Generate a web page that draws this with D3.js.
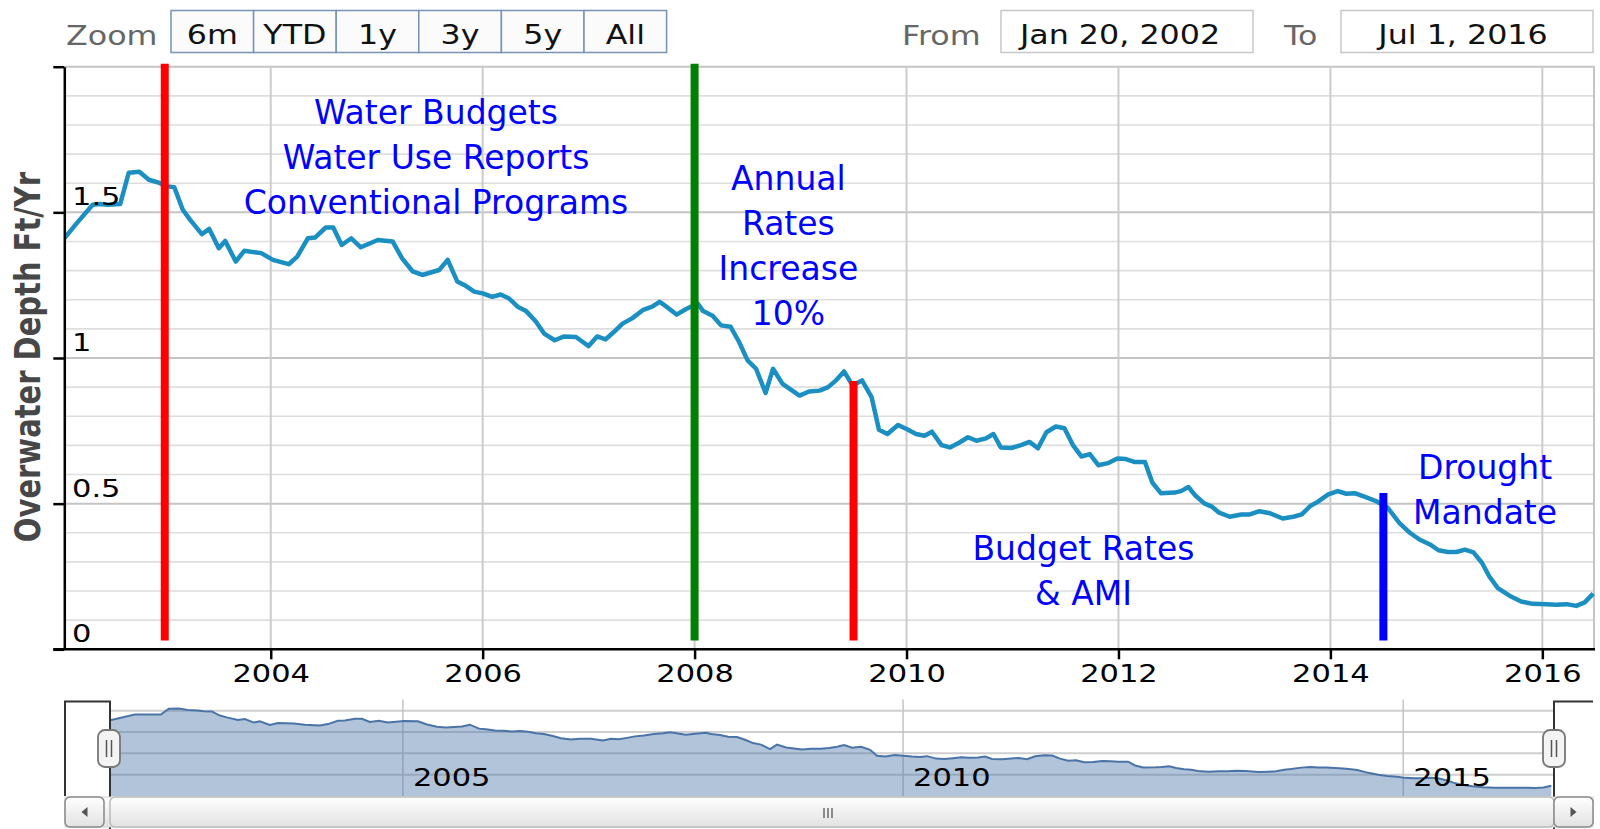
<!DOCTYPE html>
<html>
<head>
<meta charset="utf-8">
<script src="https://cdn.jsdelivr.net/npm/d3@7"></script>
<style>
  body { margin: 0; background: #fff; }
  svg { display: block; font-family: "DejaVu Sans", Verdana, sans-serif; }
</style>
</head>
<body>
<svg id="chart" width="1600" height="829"></svg>
<script>
// monthly-ish readings, decimal years
const years = [
  2002.05, 2002.17, 2002.32, 2002.38, 2002.47, 2002.58, 2002.66, 2002.76, 2002.85, 2002.95,
  2003.01, 2003.09, 2003.17, 2003.24, 2003.35, 2003.42, 2003.51, 2003.57, 2003.67, 2003.75,
  2003.91, 2004.02, 2004.17, 2004.25, 2004.35, 2004.42, 2004.52, 2004.59, 2004.67, 2004.76,
  2004.85, 2005.01, 2005.15, 2005.24, 2005.34, 2005.43, 2005.59, 2005.67, 2005.76, 2005.83,
  2005.92, 2006.00, 2006.09, 2006.17, 2006.25, 2006.33, 2006.41, 2006.50, 2006.58, 2006.68,
  2006.77, 2006.88, 2007.00, 2007.08, 2007.16, 2007.24, 2007.32, 2007.41, 2007.51, 2007.60,
  2007.67, 2007.75, 2007.83, 2007.92, 2008.03, 2008.08, 2008.17, 2008.25, 2008.34, 2008.42,
  2008.50, 2008.58, 2008.67, 2008.74, 2008.83, 2008.99, 2009.08, 2009.18, 2009.26, 2009.34,
  2009.41, 2009.49, 2009.58, 2009.67, 2009.74, 2009.82, 2009.92, 2010.00, 2010.09, 2010.17,
  2010.24, 2010.33, 2010.41, 2010.50, 2010.58, 2010.66, 2010.75, 2010.82, 2010.89, 2010.99,
  2011.08, 2011.16, 2011.24, 2011.32, 2011.41, 2011.49, 2011.57, 2011.65, 2011.73, 2011.81,
  2011.90, 2011.99, 2012.07, 2012.15, 2012.25, 2012.32, 2012.40, 2012.53, 2012.59, 2012.66,
  2012.73, 2012.81, 2012.88, 2012.95, 2013.05, 2013.16, 2013.24, 2013.33, 2013.43, 2013.55,
  2013.65, 2013.73, 2013.81, 2013.88, 2013.98, 2014.07, 2014.15, 2014.23, 2014.32, 2014.43,
  2014.54, 2014.65, 2014.75, 2014.84, 2014.94, 2015.02, 2015.11, 2015.19, 2015.27, 2015.35,
  2015.43, 2015.50, 2015.58, 2015.69, 2015.80, 2015.91, 2016.04, 2016.13, 2016.23, 2016.32,
  2016.40, 2016.48
];
const depth = [
  1.410, 1.463, 1.526, 1.529, 1.526, 1.529, 1.636, 1.639, 1.612, 1.601,
  1.590, 1.586, 1.509, 1.474, 1.425, 1.443, 1.377, 1.402, 1.331, 1.368,
  1.360, 1.337, 1.322, 1.348, 1.411, 1.414, 1.448, 1.448, 1.388, 1.411,
  1.380, 1.405, 1.400, 1.342, 1.297, 1.285, 1.302, 1.337, 1.263, 1.250,
  1.228, 1.222, 1.210, 1.218, 1.204, 1.176, 1.161, 1.126, 1.084, 1.061,
  1.074, 1.072, 1.041, 1.074, 1.064, 1.090, 1.118, 1.136, 1.164, 1.176,
  1.193, 1.172, 1.149, 1.168, 1.187, 1.161, 1.145, 1.112, 1.107, 1.055,
  0.992, 0.963, 0.880, 0.963, 0.911, 0.871, 0.885, 0.888, 0.900, 0.925,
  0.954, 0.906, 0.923, 0.866, 0.754, 0.739, 0.770, 0.756, 0.739, 0.733,
  0.747, 0.701, 0.693, 0.710, 0.728, 0.716, 0.724, 0.739, 0.693, 0.691,
  0.701, 0.712, 0.690, 0.745, 0.765, 0.759, 0.701, 0.662, 0.670, 0.632,
  0.639, 0.655, 0.653, 0.643, 0.643, 0.572, 0.536, 0.538, 0.543, 0.557,
  0.526, 0.501, 0.490, 0.469, 0.455, 0.463, 0.463, 0.474, 0.467, 0.449,
  0.455, 0.463, 0.492, 0.506, 0.532, 0.543, 0.534, 0.536, 0.524, 0.509,
  0.486, 0.434, 0.400, 0.377, 0.360, 0.340, 0.334, 0.334, 0.342, 0.333,
  0.297, 0.250, 0.210, 0.184, 0.164, 0.156, 0.155, 0.153, 0.155, 0.149,
  0.161, 0.191
];

const xTicks = [2004, 2006, 2008, 2010, 2012, 2014, 2016];
const yTicks = [0, 0.5, 1, 1.5];
const navTicks = [2005, 2010, 2015];

// policy events: year, top of the marker line
const eventYears = [2003, 2008, 2009.5, 2014.5];
const eventTops = [2, 2, 0.911, 0.526];
const eventBase = 0.03;
const eventColors = ['#ff0000', '#008000', '#ff0000', '#0000ff'];

const notes = [
  ['Water Budgets', 'Water Use Reports', 'Conventional Programs'],
  ['Annual', 'Rates', 'Increase', '10%'],
  ['Budget Rates', '& AMI'],
  ['Drought', 'Mandate']
];
const noteYears = [2005.56, 2008.885, 2011.67, 2015.46];
const noteValues = [1.802, 1.578, 0.308, 0.584];

const zoomButtons = ['6m', 'YTD', '1y', '3y', '5y', 'All'];
const fromDate = 'Jan 20, 2002';
const toDate = 'Jul 1, 2016';
const yTitle = 'Overwater Depth Ft/Yr';

const data = years.map((t, i) => ({ t: t, v: depth[i] }));

const svg = d3.select('#chart');
const SX = 1.22; // the source screenshot is stretched sideways
const pL = 64.3, pR = 1595, pT = 66.7, pB = 649.3;

const x = d3.scaleLinear().domain([2002.052, 2016.497]).range([pL, pR]);
const y = d3.scaleLinear().domain([0, 2]).range([pB, pT]);

function wideText(g, px, py, txt, size, anchor) {
  return g.append('text')
    .attr('transform', `translate(${px},${py}) scale(${SX},1)`)
    .attr('font-size', size)
    .attr('text-anchor', anchor || 'middle')
    .text(txt);
}

// ---- range selector row
const ctl = svg.append('g');
wideText(ctl, 66, 45, 'Zoom', 26, 'start').attr('fill', '#666');
const bx = d3.scaleBand().domain(zoomButtons).range([171, 666.6]);
zoomButtons.forEach(b => {
  ctl.append('rect')
    .attr('x', bx(b)).attr('y', 10.5)
    .attr('width', bx.bandwidth()).attr('height', 42)
    .attr('fill', '#fbfbfb').attr('stroke', '#7892b5').attr('stroke-width', 1.5);
  wideText(ctl, bx(b) + bx.bandwidth() / 2, 44, b, 26).attr('fill', '#111');
});
wideText(ctl, 902, 45, 'From', 26, 'start').attr('fill', '#666');
ctl.append('rect').attr('x', 1001).attr('y', 10.5).attr('width', 252).attr('height', 42)
  .attr('fill', '#fff').attr('stroke', '#c8c8c8').attr('stroke-width', 1.5);
wideText(ctl, 1120, 44, fromDate, 26).attr('fill', '#111');
wideText(ctl, 1284, 45, 'To', 26, 'start').attr('fill', '#666');
ctl.append('rect').attr('x', 1341).attr('y', 10.5).attr('width', 252).attr('height', 42)
  .attr('fill', '#fff').attr('stroke', '#c8c8c8').attr('stroke-width', 1.5);
wideText(ctl, 1463, 44, toDate, 26).attr('fill', '#111');

// ---- grid
const grid = svg.append('g');
grid.selectAll('.minor')
  .data(d3.range(1, 21).map(i => i / 10).filter(v => Math.round(v * 10) % 5 !== 0))
  .join('line')
  .attr('x1', pL).attr('x2', pR)
  .attr('y1', d => y(d)).attr('y2', d => y(d))
  .attr('stroke', '#dedede').attr('stroke-width', 1.6);
grid.selectAll('.major')
  .data([0.5, 1, 1.5, 2])
  .join('line')
  .attr('x1', pL).attr('x2', pR)
  .attr('y1', d => y(d)).attr('y2', d => y(d))
  .attr('stroke', '#c4c4c4').attr('stroke-width', 2);
grid.selectAll('.vert')
  .data(xTicks)
  .join('line')
  .attr('x1', d => x(d)).attr('x2', d => x(d))
  .attr('y1', pT).attr('y2', pB)
  .attr('stroke', '#cccccc').attr('stroke-width', 2);
grid.append('line').attr('x1', pR - 1).attr('x2', pR - 1)
  .attr('y1', pT).attr('y2', pB).attr('stroke', '#c4c4c4').attr('stroke-width', 2);

// ---- series
svg.append('defs').append('clipPath').attr('id', 'plotClip')
  .append('rect').attr('x', pL).attr('y', pT - 5).attr('width', pR - pL).attr('height', pB - pT + 5);

const line = d3.line().x(d => x(d.t)).y(d => y(d.v));
svg.append('path')
  .datum(data)
  .attr('clip-path', 'url(#plotClip)')
  .attr('d', line)
  .attr('fill', 'none')
  .attr('stroke', '#1b8fc2')
  .attr('stroke-width', 4.5)
  .attr('stroke-linejoin', 'round');

// event markers
svg.append('g').selectAll('line')
  .data(eventYears)
  .join('line')
  .attr('x1', d => x(d)).attr('x2', d => x(d))
  .attr('y1', (d, i) => y(eventTops[i]) - 3).attr('y2', y(eventBase))
  .attr('stroke', (d, i) => eventColors[i])
  .attr('stroke-width', 8);

// ---- axes
const xAxis = d3.axisBottom(x).tickValues(xTicks).tickFormat(d3.format('d')).tickSize(10).tickSizeOuter(0);
const gx = svg.append('g').attr('transform', `translate(0,${pB})`).call(xAxis);
gx.select('.domain').attr('stroke', '#000').attr('stroke-width', 2.5);
gx.selectAll('.tick line').attr('stroke', '#000').attr('stroke-width', 2.5);
gx.selectAll('.tick text')
  .attr('y', null).attr('dy', null)
  .attr('transform', `translate(0,32.5) scale(${SX},1)`)
  .attr('font-size', 25).attr('font-family', '"DejaVu Sans", sans-serif').attr('fill', '#000');

const yAxis = d3.axisLeft(y).tickValues([0, 0.5, 1, 1.5, 2]).tickFormat('').tickSize(11).tickSizeOuter(0);
const gy = svg.append('g').attr('transform', `translate(${pL},0)`).call(yAxis);
gy.select('.domain').attr('stroke', '#000').attr('stroke-width', 2.5);
gy.selectAll('.tick line').attr('stroke', '#000').attr('stroke-width', 2.5);
gx.select('.domain').attr('d', `M${pL - 11},0H${pR}`);

const yLab = svg.append('g');
yTicks.forEach(v => {
  wideText(yLab, 72, y(v) - 7, String(v), 25, 'start').attr('fill', '#000');
});

svg.append('text')
  .attr('transform', `translate(40,357) scale(${SX},1) rotate(-90)`)
  .attr('text-anchor', 'middle')
  .attr('font-size', 29)
  .attr('font-weight', 'bold')
  .attr('fill', '#474747')
  .text(yTitle);

// ---- annotations
const ann = svg.append('g').attr('fill', '#0000ff').attr('font-size', 33).attr('text-anchor', 'middle');
notes.forEach((lines, i) => {
  lines.forEach((s, j) => {
    ann.append('text')
      .attr('x', x(noteYears[i]))
      .attr('y', y(noteValues[i]) + j * 45)
      .text(s);
  });
});

// ---- navigator
const navL = 110, navR = 1554, navTop = 701.5, navBottom = 796;
const nx = d3.scaleLinear().domain(x.domain()).range([108, 1553]);
const ny = d3.scaleLinear().domain([0, 1.8]).range([navBottom, 700]);
const nav = svg.append('g');
nav.append('defs').append('clipPath').attr('id', 'navClip')
  .append('rect').attr('x', navL).attr('y', navTop).attr('width', navR - navL).attr('height', navBottom - navTop);

nav.selectAll('.ng')
  .data([0.4, 0.8, 1.2, 1.6])
  .join('line')
  .attr('x1', navL).attr('x2', navR)
  .attr('y1', d => ny(d)).attr('y2', d => ny(d))
  .attr('stroke', '#cfcfcf').attr('stroke-width', 2);
nav.selectAll('.nv')
  .data(navTicks)
  .join('line')
  .attr('x1', d => nx(d)).attr('x2', d => nx(d))
  .attr('y1', navTop - 2).attr('y2', navBottom)
  .attr('stroke', '#c4c4c4').attr('stroke-width', 1.5);

const area = d3.area().x(d => nx(d.t)).y0(navBottom).y1(d => ny(d.v));
nav.append('path').datum(data).attr('clip-path', 'url(#navClip)')
  .attr('d', area).attr('fill', 'rgba(69,114,167,0.42)');
nav.append('path').datum(data).attr('clip-path', 'url(#navClip)')
  .attr('d', d3.line().x(d => nx(d.t)).y(d => ny(d.v)))
  .attr('fill', 'none').attr('stroke', '#4a73a8').attr('stroke-width', 2);

navTicks.forEach(t => {
  wideText(nav, nx(t) + 10, 786, String(t), 25, 'start').attr('fill', '#000');
});

// outline of the selected window
nav.append('path')
  .attr('d', `M65,${navBottom}V${navTop}H${navL}V829M${navR},829V${navTop}H1593`)
  .attr('fill', 'none').attr('stroke', '#333').attr('stroke-width', 2);

// ---- scrollbar
const defs = svg.append('defs');
const grad = defs.append('linearGradient').attr('id', 'sb').attr('x1', 0).attr('x2', 0).attr('y1', 0).attr('y2', 1);
grad.append('stop').attr('offset', '0%').attr('stop-color', '#ffffff');
grad.append('stop').attr('offset', '100%').attr('stop-color', '#e2e2e2');

const sbY = 797, sbH = 30;
nav.append('rect').attr('x', 65).attr('y', sbY).attr('width', 1528).attr('height', sbH)
  .attr('fill', 'url(#sb)').attr('stroke', '#d0d0d0');
nav.append('rect').attr('x', navL).attr('y', sbY).attr('width', navR - navL).attr('height', sbH)
  .attr('rx', 5).attr('fill', 'url(#sb)').attr('stroke', '#bbb').attr('stroke-width', 1.5);
[-4, 0, 4].forEach(o => {
  nav.append('line').attr('x1', 828 + o).attr('x2', 828 + o)
    .attr('y1', 808).attr('y2', 818).attr('stroke', '#555').attr('stroke-width', 1.3);
});
[[65, -1], [1554, 1]].forEach(([bxL, dir]) => {
  nav.append('rect').attr('x', bxL).attr('y', sbY).attr('width', 39).attr('height', sbH)
    .attr('rx', 5).attr('fill', 'url(#sb)').attr('stroke', '#888').attr('stroke-width', 1.5);
  const cx = bxL + 19.5, cy = sbY + 15;
  nav.append('path')
    .attr('d', `M${cx + dir * 3},${cy}L${cx - dir * 3},${cy - 5}L${cx - dir * 3},${cy + 5}Z`)
    .attr('fill', '#555');
});

// ---- handles
[navL - 1, navR].forEach(hx => {
  nav.append('rect').attr('x', hx - 11).attr('y', 730).attr('width', 22).attr('height', 37)
    .attr('rx', 7).attr('fill', '#f4f4f4').attr('stroke', '#777').attr('stroke-width', 1.8);
  [-2.5, 2.5].forEach(o => {
    nav.append('line').attr('x1', hx + o).attr('x2', hx + o)
      .attr('y1', 740).attr('y2', 757).attr('stroke', '#555').attr('stroke-width', 1.5);
  });
});
</script>
</body>
</html>
